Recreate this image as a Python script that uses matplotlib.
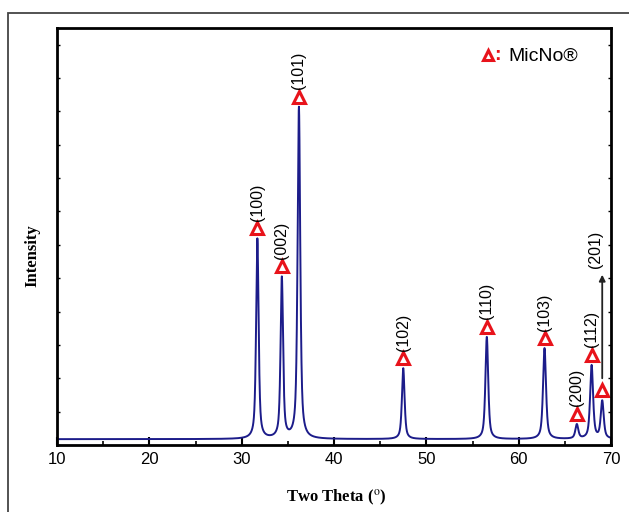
import matplotlib
matplotlib.use("Agg")
import matplotlib.pyplot as plt
import numpy as np
from matplotlib.patches import Rectangle

plt.rcParams["mathtext.fontset"] = "stix"

# peak data (2theta in degrees, intensity in arbitrary units)
peak_labels = ["(100)", "(002)", "(101)", "(102)", "(110)", "(103)", "(200)", "(112)", "(201)"]
peak_pos = [31.7, 34.35, 36.2, 47.5, 56.55, 62.8, 66.3, 67.9, 69.05]
peak_height = [48.0, 38.5, 79.5, 17.0, 24.5, 21.8, 3.4, 17.6, 9.0]
peak_fwhm = [0.32, 0.32, 0.34, 0.34, 0.36, 0.38, 0.38, 0.38, 0.38]
baseline = 1.4

x_ticks = [10, 20, 30, 40, 50, 60, 70]

LINE = "#1c1c8a"
RED = "#e8131b"


def profile(tt):
    y = np.full_like(tt, baseline)
    for c, h, w in zip(peak_pos, peak_height, peak_fwhm):
        g = np.exp(-4 * np.log(2) * ((tt - c) / w) ** 2)
        l = 1.0 / (1.0 + 4 * ((tt - c) / w) ** 2)
        y += h * (0.65 * l + 0.35 * g)
    return y


tt = np.linspace(10, 70, 6001)
inten = profile(tt)
tops = profile(np.array(peak_pos))

fig = plt.figure(figsize=(6.29, 5.12), dpi=100)
fig.patches.append(Rectangle((8 / 629, -0.1), 1.2, 0.1 + (512 - 13) / 512,
                             transform=fig.transFigure, fill=False,
                             edgecolor="#444444", lw=1.3))

ax = fig.add_axes([57 / 629, 67 / 512, (611 - 57) / 629, (445 - 28) / 512])
ax.plot(tt, inten, color=LINE, lw=1.4)
ax.set_xlim(10, 70)
ax.set_ylim(0, 100)

for name, pos, top in zip(peak_labels, peak_pos, tops):
    ty = top + 2.4
    ax.plot(pos, ty, marker="^", ms=8, mfc="white", mec=RED, mew=2.2, clip_on=False)
    if name == "(201)":
        ax.annotate("", xy=(pos, 41.5), xytext=(pos, ty + 2.2),
                    arrowprops=dict(arrowstyle="-|>", color="#222222", lw=1.3,
                                    mutation_scale=9))
        ax.text(pos - 0.75, 42.5, name, rotation=90, ha="center", va="bottom",
                fontsize=11.5, family="Liberation Sans")
    else:
        ax.text(pos, ty + 1.8, name, rotation=90, ha="center", va="bottom",
                fontsize=11.5, family="Liberation Sans")

ax.set_xticks(x_ticks)
ax.set_xticks(np.arange(15, 70, 10), minor=True)
ax.set_yticks(np.arange(0, 100, 8))
ax.set_yticklabels([])
ax.tick_params(axis="x", which="major", direction="in", length=6, width=1.5,
               labelsize=12, pad=5)
ax.tick_params(axis="x", which="minor", direction="in", length=3, width=1.2)
ax.tick_params(axis="y", direction="in", length=2.5, width=1.0, left=True, right=True)
for lab in ax.get_xticklabels():
    lab.set_family("Liberation Sans")
for sp in ax.spines.values():
    sp.set_linewidth(2.0)

# legend entry
ax.plot(0.778, 0.935, marker="^", ms=7.5, mfc="white", mec=RED, mew=2.2,
        transform=ax.transAxes, clip_on=False)
ax.text(0.789, 0.935, ":", color=RED, fontsize=14, fontweight="bold",
        transform=ax.transAxes, va="center", family="Liberation Sans")
ax.text(0.815, 0.933, "MicNo®", fontsize=14, transform=ax.transAxes,
        va="center", family="Liberation Sans")

fig.text(336 / 629, 1 - 498 / 512, r"Two Theta ($^{\rm o}$)", ha="center", va="center",
         fontsize=12, fontweight="bold", family="Liberation Serif")
fig.text(32 / 629, 1 - 256 / 512, "Intensity", rotation=90, ha="center", va="center",
         fontsize=12, fontweight="bold", family="Liberation Serif")

fig.savefig("out.png", dpi=100)
